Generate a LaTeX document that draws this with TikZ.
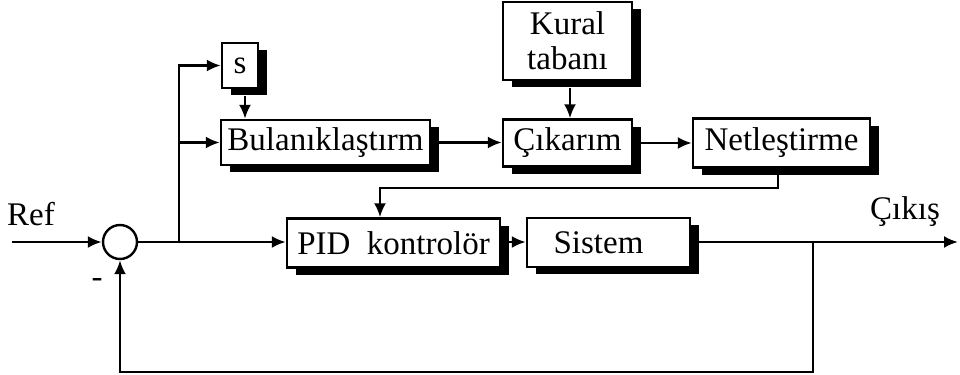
\documentclass[tikz,border=0pt]{standalone}
\usepackage{fontspec}
\setmainfont{Liberation Serif}
\usetikzlibrary{arrows.meta,shadows}
\begin{document}
\begin{tikzpicture}[x=0.5pt,y=-0.5pt, line width=1.2pt,
  blk/.style={draw, fill=white, inner sep=0pt, align=center,
    font=\fontsize{16.5}{17.5}\selectfont,
    drop shadow={shadow xshift=4.5pt, shadow yshift=-3.5pt, fill=black, opacity=1}},
  arr/.style={-{Latex[length=7pt,width=6pt]}},
  lbl/.style={font=\fontsize{16.5}{18}\selectfont}]
\useasboundingbox (0,0) rectangle (960,375);

\node[blk, minimum width=18pt, minimum height=22.5pt] (s) at (240,65.5) {s};
\node[blk, minimum width=104.5pt, minimum height=22.5pt] (bul) at (325.5,142.5) {Bulanıklaştırm};
\node[blk, minimum width=64.5pt, minimum height=39pt] (kur) at (567.5,41) {Kural\\tabanı};
\node[blk, minimum width=64.5pt, minimum height=23.5pt] (cik) at (567.5,143) {Çıkarım};
\node[blk, minimum width=88.5pt, minimum height=24.5pt] (net) at (781.5,143) {Netleştirme};
\node[blk, minimum width=106.5pt, minimum height=24.5pt] (pid) at (393.5,243) {PID\ \ kontrolör};
\node[blk, minimum width=81.5pt, minimum height=24.5pt] (sis) at (608.5,242.5) {Sistem\hspace*{10pt}};
\node[draw, circle, minimum size=17pt, inner sep=0pt] (sum) at (120,242) {};

\node[lbl] (ref) at (31,214) {Ref};
\node[lbl] (minus) at (97,283) {-};
\node[lbl] (cikis) at (905,212) {Çıkış};

\coordinate (refin) at (12,242);
\coordinate (br) at (179,242);
\coordinate (n1) at (778,188);
\coordinate (p1) at (380,188);
\coordinate (out) at (958,242);
\coordinate (fb) at (813,242);
\coordinate (fbb) at (813,372);
\coordinate (fbl) at (120,372);

\draw[arr] (refin) -- (sum.west);
\draw[arr] (sum.east) -- (sum.east -| pid.west);
\draw[arr] (br) |- (s.west);
\draw[arr] (br) |- (bul.west);
\draw[arr] ([shift={(2.5pt,-3.5pt)}]s.south) -- ([xshift=2.5pt]s.south |- bul.north);
\draw[arr] ([shift={(1.25pt,-3.5pt)}]kur.south) -- ([xshift=1.25pt]kur.south |- cik.north);
\draw[arr] (bul.east) -- (bul.east -| cik.west);
\draw[arr] (cik.east) -- (cik.east -| net.west);
\draw[arr] (n1 |- net.south) -- (n1) -- (p1) -- (p1 |- pid.north);
\draw[arr] (sum.east -| pid.east) -- (sum.east -| sis.west);
\draw[arr] (sum.east -| sis.east) -- (out);
\draw[arr] (fb) -- (fbb) -- (fbl) -- (sum.south);
\end{tikzpicture}
\end{document}
